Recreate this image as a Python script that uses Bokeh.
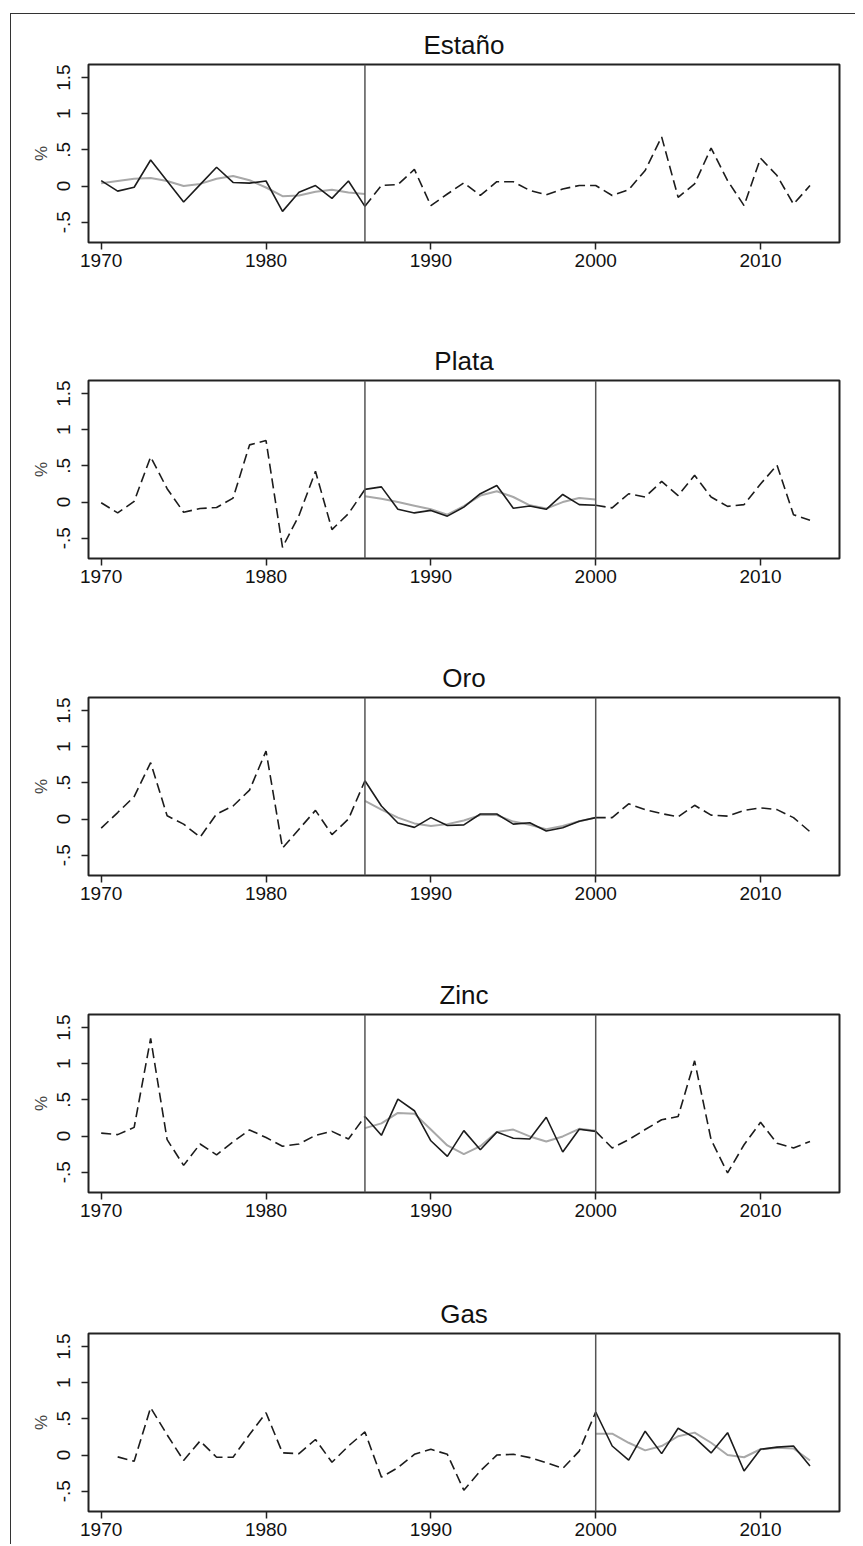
from bokeh.plotting import figure
from bokeh.models import Range1d, FixedTicker, Span
from bokeh.layouts import column
from bokeh.embed import file_html
from bokeh.resources import INLINE

# ---------------- data ----------------
x_ticks = [1970, 1980, 1990, 2000, 2010]
y_ticks = [-0.5, 0, 0.5, 1, 1.5]
y_tick_labels = {-0.5: "-.5", 0: "0", 0.5: ".5", 1: "1", 1.5: "1.5"}

# Estaño
estano_solid_years = list(range(1970, 1987))
estano_solid = [0.076, -0.07, -0.016, 0.36, 0.07, -0.22, 0.02, 0.26, 0.05, 0.04,
                0.07, -0.35, -0.085, 0.007, -0.17, 0.07, -0.28]
estano_smooth = [0.04, 0.07, 0.10, 0.11, 0.07, 0.00, 0.03, 0.10, 0.14, 0.08,
                 -0.02, -0.14, -0.13, -0.08, -0.05, -0.09, -0.11]
estano_dash_years = list(range(1986, 2014))
estano_dash = [-0.28, 0.01, 0.02, 0.23, -0.27, -0.11, 0.045, -0.13, 0.06, 0.06,
               -0.06, -0.12, -0.04, 0.007, 0.007, -0.13, -0.05, 0.215, 0.68, -0.155,
               0.03, 0.525, 0.075, -0.27, 0.385, 0.145, -0.25, 0.007]

# Plata
plata_dash1_years = list(range(1970, 1987))
plata_dash1 = [-0.01, -0.15, 0.01, 0.625, 0.185, -0.14, -0.09, -0.075, 0.055, 0.79,
               0.85, -0.625, -0.185, 0.425, -0.38, -0.16, 0.175]
plata_solid_years = list(range(1986, 2001))
plata_solid = [0.175, 0.21, -0.10, -0.15, -0.115, -0.195, -0.07, 0.115, 0.23, -0.085,
               -0.055, -0.10, 0.105, -0.035, -0.045]
plata_smooth = [0.08, 0.045, 0.0, -0.05, -0.10, -0.175, -0.055, 0.09, 0.15, 0.07,
                -0.045, -0.09, 0.0, 0.055, 0.035]
plata_dash2_years = list(range(2000, 2014))
plata_dash2 = [-0.045, -0.08, 0.115, 0.07, 0.285, 0.09, 0.37, 0.07, -0.06, -0.035,
               0.25, 0.51, -0.175, -0.25]

# Oro
oro_dash1_years = list(range(1970, 1987))
oro_dash1 = [-0.125, 0.09, 0.31, 0.78, 0.045, -0.07, -0.25, 0.07, 0.18, 0.40,
             0.94, -0.40, -0.14, 0.12, -0.215, 0.0, 0.53]
oro_solid_years = list(range(1986, 2001))
oro_solid = [0.53, 0.18, -0.055, -0.115, 0.02, -0.09, -0.08, 0.07, 0.07, -0.07,
             -0.05, -0.165, -0.12, -0.03, 0.02]
oro_smooth = [0.25, 0.13, 0.02, -0.06, -0.095, -0.07, -0.02, 0.055, 0.055, -0.035,
              -0.08, -0.14, -0.095, -0.03, 0.02]
oro_dash2_years = list(range(2000, 2014))
oro_dash2 = [0.02, 0.02, 0.21, 0.13, 0.075, 0.03, 0.19, 0.055, 0.04, 0.12,
             0.155, 0.13, 0.02, -0.175]

# Zinc
zinc_dash1_years = list(range(1970, 1987))
zinc_dash1 = [0.04, 0.02, 0.12, 1.35, -0.05, -0.405, -0.11, -0.26, -0.08, 0.085,
              -0.02, -0.14, -0.11, 0.01, 0.065, -0.04, 0.27]
zinc_solid_years = list(range(1986, 2001))
zinc_solid = [0.27, 0.01, 0.51, 0.35, -0.065, -0.28, 0.075, -0.19, 0.055, -0.03,
              -0.04, 0.26, -0.22, 0.095, 0.065]
zinc_smooth = [0.11, 0.175, 0.32, 0.31, 0.09, -0.13, -0.25, -0.14, 0.055, 0.09,
               -0.005, -0.075, -0.005, 0.10, 0.075]
zinc_dash2_years = list(range(2000, 2014))
zinc_dash2 = [0.065, -0.165, -0.05, 0.09, 0.225, 0.27, 1.04, -0.05, -0.51, -0.12,
              0.19, -0.10, -0.165, -0.075]

# Gas
gas_dash_years = list(range(1971, 2001))
gas_dash = [-0.025, -0.085, 0.655, 0.28, -0.075, 0.195, -0.03, -0.03, 0.285, 0.585,
            0.03, 0.02, 0.215, -0.10, 0.125, 0.32, -0.305, -0.175, 0.01, 0.08,
            0.01, -0.485, -0.22, 0.0, 0.01, -0.035, -0.105, -0.185, 0.055, 0.595]
gas_solid_years = list(range(2000, 2014))
gas_solid = [0.595, 0.125, -0.07, 0.33, 0.02, 0.37, 0.24, 0.03, 0.31, -0.22,
             0.08, 0.11, 0.125, -0.15]
gas_smooth = [0.295, 0.295, 0.17, 0.065, 0.125, 0.26, 0.31, 0.17, 0.0, -0.03,
              0.08, 0.10, 0.09, -0.075]

FONT = "Liberation Sans"
INK = "#1c1c1c"


def make_panel(title, dashed, solid_x, solid_y, smooth_y, vlines, bottom):
    p = figure(frame_width=751, frame_height=178,
               x_range=Range1d(1969.23, 2014.79), y_range=Range1d(-0.78, 1.68),
               output_backend="svg", toolbar_location=None,
               min_border_left=77, min_border_right=16,
               min_border_top=50, min_border_bottom=bottom,
               title=title, background_fill_color="white",
               border_fill_color="white")
    p.title.align = "center"
    p.title.text_font = FONT
    p.title.text_font_size = "26px"
    p.title.text_font_style = "normal"
    p.title.text_color = "#111111"
    p.title.standoff = 10

    p.xgrid.visible = False
    p.ygrid.visible = False
    p.outline_line_color = "#222222"
    p.outline_line_width = 2
    p.outline_line_alpha = 1

    for ax in (p.xaxis, p.yaxis):
        ax.axis_line_color = None
        ax.major_tick_out = 7
        ax.major_tick_in = 0
        ax.major_tick_line_width = 1.5
        ax.major_tick_line_color = "#222222"
        ax.minor_tick_line_color = None
        ax.major_label_text_font = FONT
        ax.major_label_text_font_size = "19px"
        ax.major_label_text_color = "#111111"

    p.xaxis.ticker = FixedTicker(ticks=x_ticks)
    p.xaxis.major_label_standoff = 4
    p.yaxis.ticker = FixedTicker(ticks=y_ticks)
    p.yaxis.major_label_overrides = y_tick_labels
    p.yaxis.major_label_orientation = "vertical"
    p.yaxis.major_label_standoff = 11
    p.yaxis.axis_label = "%"
    p.yaxis.axis_label_text_font = FONT
    p.yaxis.axis_label_text_font_size = "17px"
    p.yaxis.axis_label_text_font_style = "normal"
    p.yaxis.axis_label_standoff = 4

    for xs, ys in dashed:
        p.line(xs, ys, line_color=INK, line_width=1.6, line_dash="10 5")
    p.line(solid_x, smooth_y, line_color="#a8a8a8", line_width=2)
    p.line(solid_x, solid_y, line_color=INK, line_width=1.6)

    for v in vlines:
        p.add_layout(Span(location=v, dimension="height", line_color="#555555",
                          line_width=1.5))
    return p


p1 = make_panel("Estaño", [(estano_dash_years, estano_dash)],
                estano_solid_years, estano_solid, estano_smooth, [1986], 88)
p2 = make_panel("Plata", [(plata_dash1_years, plata_dash1), (plata_dash2_years, plata_dash2)],
                plata_solid_years, plata_solid, plata_smooth, [1986, 2000], 89)
p3 = make_panel("Oro", [(oro_dash1_years, oro_dash1), (oro_dash2_years, oro_dash2)],
                oro_solid_years, oro_solid, oro_smooth, [1986, 2000], 89)
p4 = make_panel("Zinc", [(zinc_dash1_years, zinc_dash1), (zinc_dash2_years, zinc_dash2)],
                zinc_solid_years, zinc_solid, zinc_smooth, [1986, 2000], 91)
p5 = make_panel("Gas", [(gas_dash_years, gas_dash)],
                gas_solid_years, gas_solid, gas_smooth, [2000], 33)

layout = column(p1, p2, p3, p4, p5, spacing=0,
                styles={"margin-left": "10px", "margin-top": "13px",
                        "border-top": "1px solid #333333",
                        "border-left": "1px solid #333333"})

open("out.html", "w").write(file_html(layout, INLINE))
